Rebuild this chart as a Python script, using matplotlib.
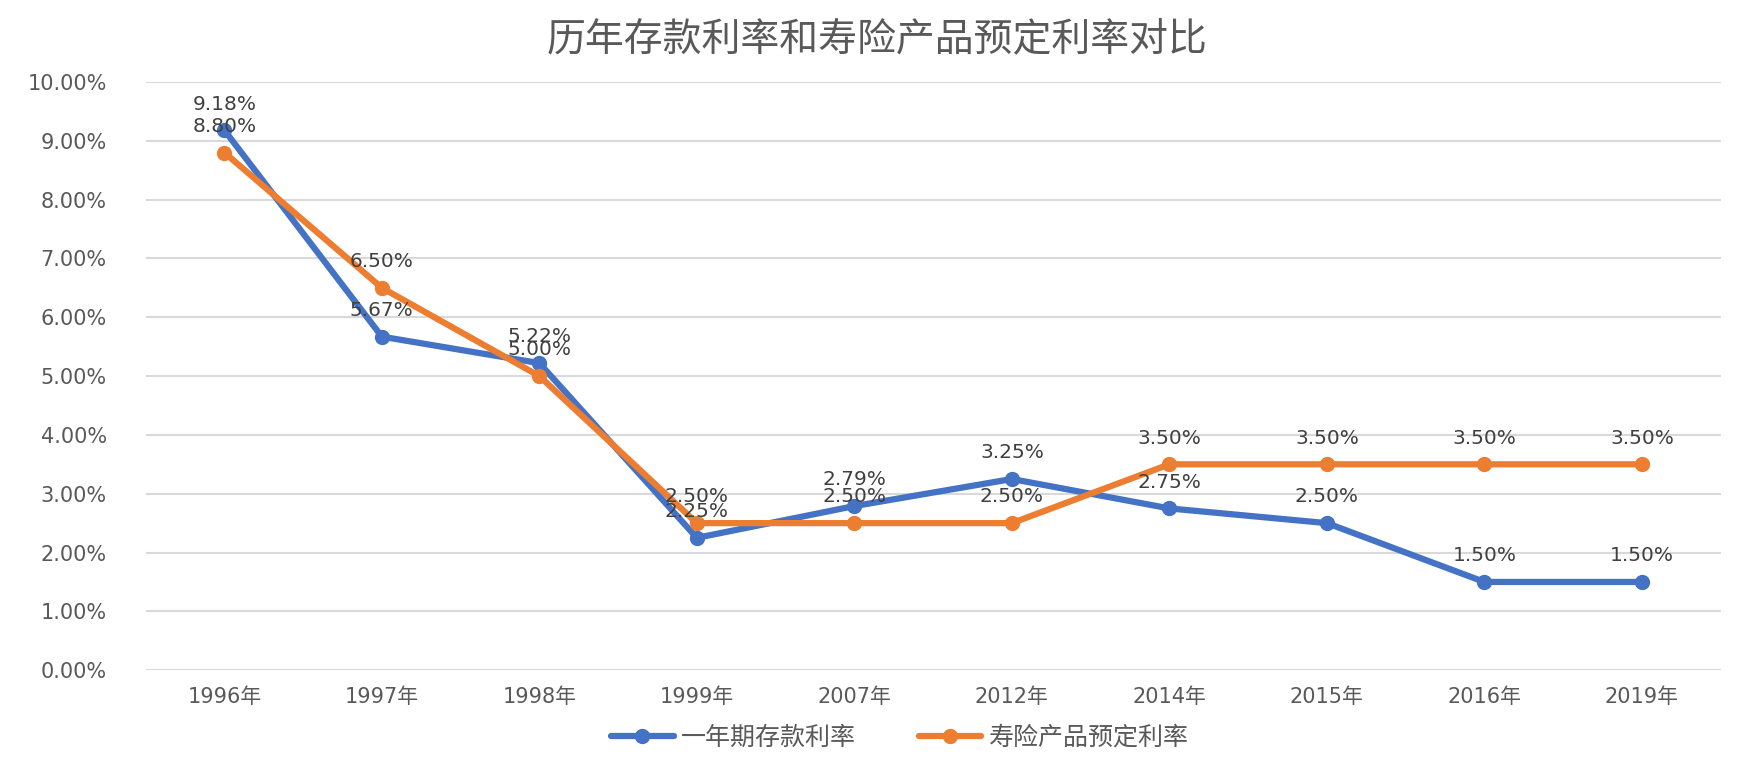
import matplotlib
matplotlib.use("Agg")
import matplotlib.pyplot as plt
from matplotlib.ticker import FuncFormatter
import numpy as np

# fonts: DejaVu for digits, CJK for the Chinese text
plt.rcParams['font.family'] = ['DejaVu Sans', 'Noto Sans CJK SC']

years = ["1996年", "1997年", "1998年", "1999年", "2007年", "2012年", "2014年", "2015年", "2016年", "2019年"]
deposit_rate = [9.18, 5.67, 5.22, 2.25, 2.79, 3.25, 2.75, 2.50, 1.50, 1.50]     # 一年期存款利率
insurance_rate = [8.80, 6.50, 5.00, 2.50, 2.50, 2.50, 3.50, 3.50, 3.50, 3.50]   # 寿险产品预定利率
series_names = ["一年期存款利率", "寿险产品预定利率"]

blue = "#4472C4"
orange = "#ED7D31"
grey_text = "#595959"

fig = plt.figure(figsize=(17.54, 7.73), dpi=100)
ax = fig.add_axes([0.083, 0.133, 0.898, 0.761])

x = np.arange(len(years))
ax.plot(x, deposit_rate, color=blue, linewidth=4.5, marker="o", markersize=10,
        label=series_names[0], solid_capstyle="round", zorder=3)
ax.plot(x, insurance_rate, color=orange, linewidth=4.5, marker="o", markersize=10,
        label=series_names[1], solid_capstyle="round", zorder=4)

# data labels above every point
for xi, v in zip(x, deposit_rate):
    ax.annotate(f"{v:.2f}%", (xi, v), xytext=(0, 12), textcoords="offset points",
                ha="center", va="bottom", fontsize=14.5, color="#404040", zorder=5)
for xi, v in zip(x, insurance_rate):
    ax.annotate(f"{v:.2f}%", (xi, v), xytext=(0, 12), textcoords="offset points",
                ha="center", va="bottom", fontsize=14.5, color="#404040", zorder=5)

ax.set_xlim(-0.5, len(years) - 0.5)
ax.set_ylim(0, 10)
ax.set_yticks(np.arange(0, 10.01, 1))
ax.yaxis.set_major_formatter(FuncFormatter(lambda v, p: f"{v:.2f}%"))
ax.set_xticks(x)
ax.set_xticklabels(years)
ax.tick_params(axis="both", length=0, labelsize=15, colors=grey_text)
ax.tick_params(axis="y", pad=28)
ax.tick_params(axis="x", pad=12)

ax.grid(axis="y", color="#D9D9D9", linewidth=1.5)
ax.set_axisbelow(True)
for s in ax.spines.values():
    s.set_visible(False)

fig.suptitle("历年存款利率和寿险产品预定利率对比", y=0.975, fontsize=28, color=grey_text,
             family=['Noto Sans CJK SC', 'DejaVu Sans'], fontweight="light")

leg = fig.legend(loc="lower center", bbox_to_anchor=(0.513, 0.0), ncol=2, frameon=False,
                 handlelength=2.5, columnspacing=2.5, handletextpad=0.3,
                 prop={'family': ['Noto Sans CJK SC', 'DejaVu Sans'], 'size': 18, 'weight': 'light'})
for t in leg.get_texts():
    t.set_color(grey_text)

fig.savefig("out.png", dpi=100)
